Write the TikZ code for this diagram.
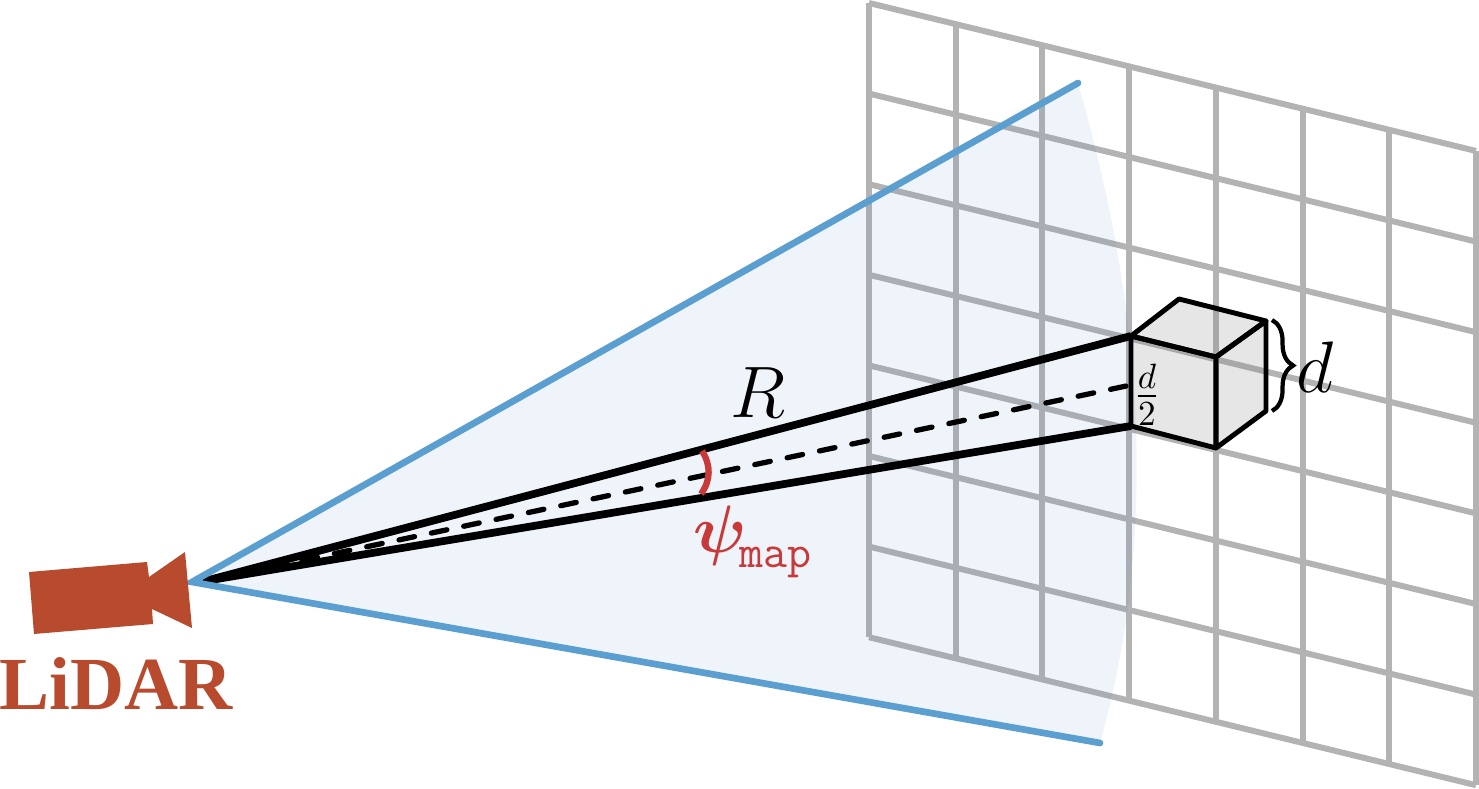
\documentclass[tikz,border=0pt]{standalone}
\usepackage{amsmath}
\usepackage{amssymb}
\usepackage{fontspec}
\usetikzlibrary{decorations.pathreplacing}
\newfontfamily\lidarfont{Liberation Serif}
\definecolor{lidarred}{HTML}{B84A2E}
\definecolor{beamblue}{HTML}{5B9ED0}
\definecolor{beamfill}{HTML}{4F86C9}
\definecolor{anglered}{HTML}{C8393A}
\definecolor{gridgray}{HTML}{B3B3B3}
\tikzstyle{gridline}=[draw=gridgray,line width=1.7pt]
\tikzstyle{beam}=[draw=beamblue,line width=1.9pt,line cap=round]
\tikzstyle{ray}=[draw=black,line width=2.2pt]
\tikzstyle{cubeface}=[draw=black,line width=1.4pt,line join=round,fill=gray,fill opacity=0.2]

\begin{document}
\begin{tikzpicture}[x=0.01cm,y=-0.01cm]
\useasboundingbox (0,0) rectangle (1479,789);
\foreach \i in {0,...,7} {
    \draw [gridline] (869+86.7*\i,3+21.14*\i) -- ++(0,634);
    \draw [gridline] (869,3+90.6*\i) -- ++(607,148);
}
\coordinate (apex) at (192,582);
\coordinate (tip) at (205,581);
\coordinate (beamtop) at (1078,83);
\coordinate (beambot) at (1100,743);
\coordinate (ftl) at (1131,336);
\coordinate (ftr) at (1216,357);
\coordinate (fbr) at (1216,448);
\coordinate (fbl) at (1131,426);
\coordinate (fml) at (1131,385);
\coordinate (btl) at (1179,299);
\coordinate (btr) at (1266,321);
\coordinate (bbr) at (1266,411);
\coordinate (bracetop) at (1272,320);
\coordinate (bracebot) at (1272,411);
\coordinate (arctop) at (702,451);
\coordinate (arcbot) at (701,494);

\fill [beamfill,fill opacity=0.09] (apex) -- (beamtop) .. controls (1120,230) and (1174,480) .. (beambot) -- cycle;
\draw [cubeface] (ftl) -- (ftr) -- (fbr) -- (fbl) -- cycle;
\draw [cubeface] (ftl) -- (btl) -- (btr) -- (ftr) -- cycle;
\draw [cubeface] (ftr) -- (btr) -- (bbr) -- (fbr) -- cycle;
\draw [ray] (tip) -- (ftl);
\draw [ray] (tip) -- (fbl);
\draw [draw=black,line width=1.5pt,dash pattern=on 4.5pt off 4.9pt,line cap=round] (tip) -- (fml);
\draw [beam] (beamtop) -- (apex) -- (beambot);
\draw [draw=anglered,line width=1.8pt] (arctop) .. controls (711,465) and (711,480) .. (arcbot);
\draw [draw=black,line width=1.2pt,decorate,decoration={brace,amplitude=6pt}] (bracetop) -- (bracebot);

\fill [lidarred] (29,572) -- (147,562) -- (149,577) -- (185,552) -- (192,628) -- (152,609) -- (153,624) -- (34,634) -- cycle;
\node [text=lidarred,inner sep=0pt] (lidar) at (116,684) {\lidarfont\fontsize{21.3}{25}\selectfont\bfseries LiDAR};
\node [inner sep=0pt] (range) at (758,393) {\huge $R$};
\node [inner sep=0pt,text=anglered] (psi) at (753,542) {\scalebox{0.92}{\huge $\boldsymbol{\psi}_{\!\mathtt{map}}$}};
\node [inner sep=0pt] (size) at (1315,367) {\huge $d$};
\node [inner sep=0pt] (half) at (1147,395) {\Large $\frac{d}{2}$};
\end{tikzpicture}
\end{document}
